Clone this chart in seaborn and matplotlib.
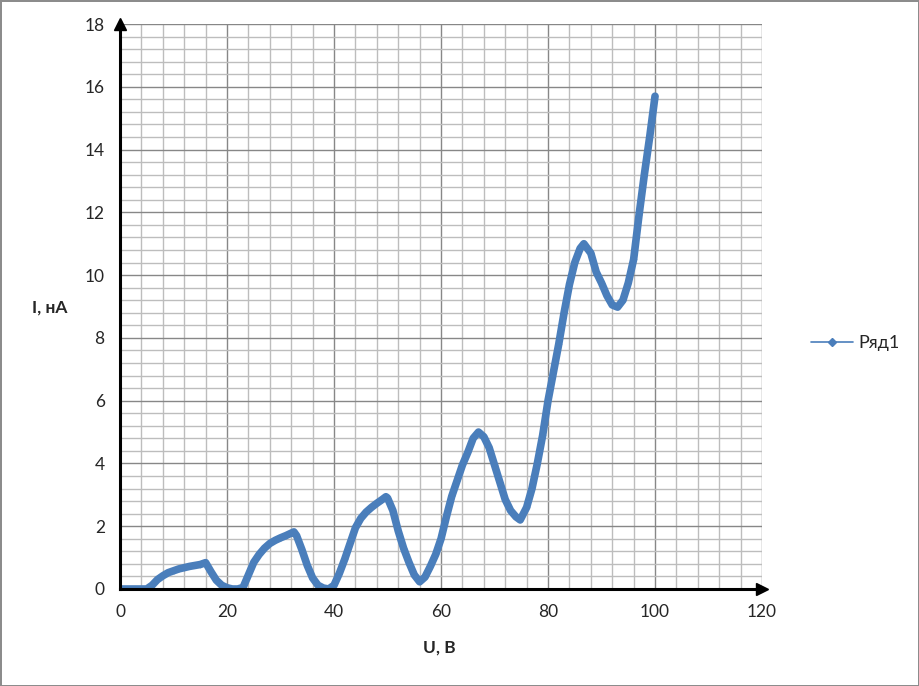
import matplotlib
matplotlib.use("Agg")
import matplotlib.pyplot as plt
from matplotlib.lines import Line2D
from matplotlib.ticker import MultipleLocator
import seaborn as sns

# напряжение, В
voltage = [0, 1, 2, 3, 4, 5, 6, 7, 8, 9, 10, 11, 12, 13, 14, 15, 16, 17, 18, 19,
           20, 21, 22, 23, 24, 25, 26, 27, 28, 29, 30, 31, 32, 32.5, 33, 34, 35, 36, 37, 38,
           39, 40, 41, 42, 43, 44, 45, 46, 47, 48, 49, 49.7, 50, 51, 52, 53, 54, 55, 56,
           57, 58, 59, 60, 61, 62, 63, 64, 65, 66, 67, 68, 69, 70, 71, 72, 73, 74, 74.8,
           76, 77, 78, 79, 80, 81, 82, 83, 84, 85, 86, 86.7, 88, 89, 90, 91, 92, 93, 94,
           95, 96, 97, 98, 99, 100]
# ток, нА
current = [0, 0, 0, 0, 0, 0, 0.12, 0.3, 0.42, 0.52, 0.58, 0.64, 0.68, 0.72, 0.75, 0.78, 0.84, 0.55, 0.28, 0.12,
           0.04, 0.0, 0.0, 0.05, 0.45, 0.85, 1.1, 1.3, 1.45, 1.55, 1.63, 1.7, 1.78, 1.82, 1.7, 1.25, 0.75, 0.35, 0.12, 0.03,
           0.0, 0.12, 0.5, 0.95, 1.45, 1.95, 2.25, 2.45, 2.6, 2.73, 2.85, 2.94, 2.9, 2.5, 1.85, 1.3, 0.85, 0.45, 0.23,
           0.38, 0.72, 1.1, 1.6, 2.3, 2.95, 3.45, 3.95, 4.35, 4.8, 5.0, 4.85, 4.5, 3.95, 3.4, 2.85, 2.5, 2.3, 2.2,
           2.6, 3.2, 4.0, 4.9, 6.0, 6.9, 7.8, 8.8, 9.7, 10.4, 10.85, 11.0, 10.7, 10.1, 9.75, 9.35, 9.05, 8.98, 9.2,
           9.75, 10.5, 11.9, 13.2, 14.4, 15.7]

series_name = "Ряд1"
line_color = "#4A7EBB"

sns.set_style("white")
plt.rcParams['font.family'] = ['Lato', 'DejaVu Sans']

fig = plt.figure(figsize=(9.19, 6.86), dpi=100)
fig.patch.set_edgecolor("#8C8C8C")
fig.patch.set_linewidth(2)

ax = fig.add_axes([0.1306, 0.1414, 0.6986, 0.8236])
sns.lineplot(x=voltage, y=current, ax=ax, color=line_color, linewidth=5.5,
             marker="D", markersize=3, markeredgewidth=0, sort=False,
             solid_capstyle="round", solid_joinstyle="round", legend=False)

ax.set_xlim(0, 120)
ax.set_ylim(0, 18)
ax.xaxis.set_major_locator(MultipleLocator(20))
ax.xaxis.set_minor_locator(MultipleLocator(4))
ax.yaxis.set_major_locator(MultipleLocator(2))
ax.yaxis.set_minor_locator(MultipleLocator(0.4))

ax.set_axisbelow(True)
ax.grid(which="minor", color="#BDBDBD", linewidth=1)
ax.grid(which="major", color="#878787", linewidth=1)

for s in ["top", "right"]:
    ax.spines[s].set_visible(False)
for s in ["left", "bottom"]:
    ax.spines[s].set_color("black")
    ax.spines[s].set_linewidth(2.2)

ax.tick_params(which="major", direction="out", length=5, width=2, color="black",
               labelsize=12.5, pad=6)
ax.tick_params(which="minor", length=0)

# стрелки осей
ax.plot(1, 0, ">k", markersize=8, transform=ax.get_yaxis_transform(), clip_on=False)
ax.plot(0, 1, "^k", markersize=8, transform=ax.get_xaxis_transform(), clip_on=False)

ax.set_xlabel("U, В", fontsize=12.5, fontweight="bold")
ax.xaxis.set_label_coords(0.498, -0.104)
ax.xaxis.label.set_va("center")
ax.set_ylabel("I, нА", fontsize=12.5, fontweight="bold", rotation=0,
              ha="center", va="center")
ax.yaxis.set_label_coords(-0.109, 0.499)

handle = Line2D([], [], color=line_color, linewidth=1.2, marker="D", markersize=4)
fig.legend([handle], [series_name], loc="center left",
           bbox_to_anchor=(795 / 919, 1 - 343 / 686), frameon=False,
           handlelength=2.3, fontsize=13, handletextpad=0.3)

fig.savefig("out.png", dpi=100)
